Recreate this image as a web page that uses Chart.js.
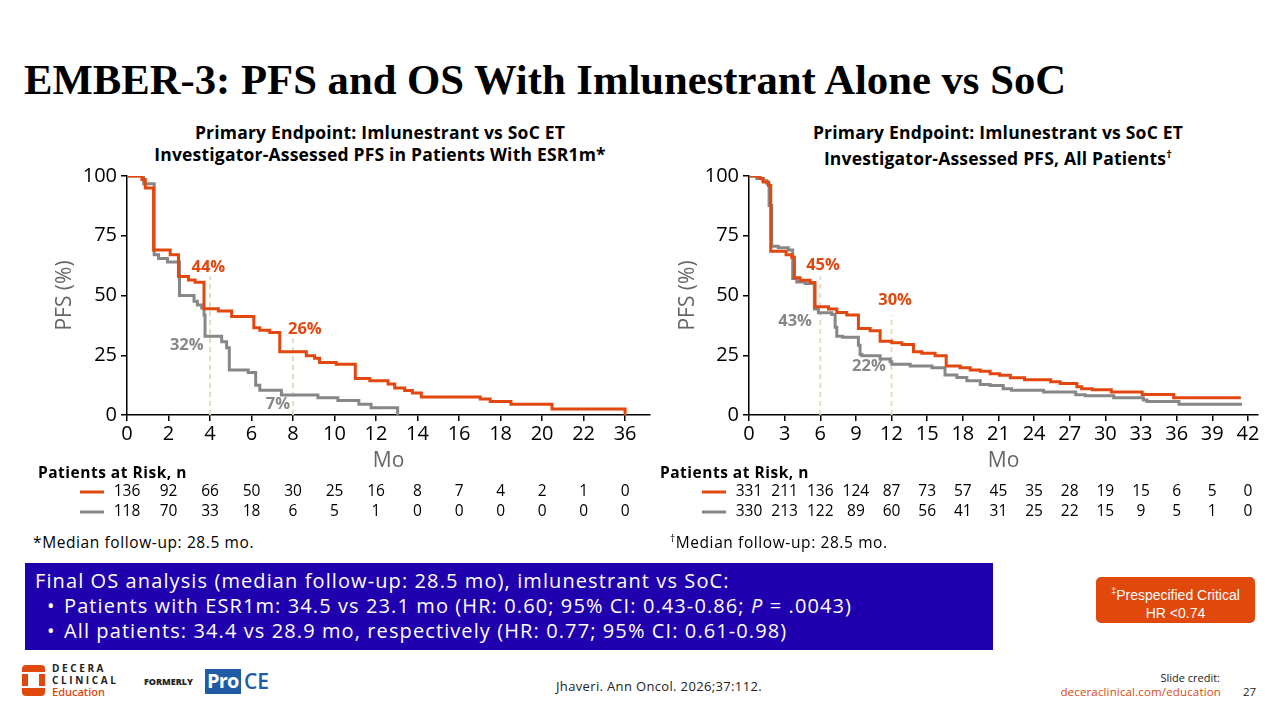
<!DOCTYPE html>
<html><head><meta charset="utf-8">
<script src="https://cdn.jsdelivr.net/npm/chart.js@4.4.1/dist/chart.umd.min.js"></script>
<style>
body{margin:0;width:1280px;height:720px;position:relative;background:#fff;overflow:hidden;font-family:'Open Sans',sans-serif;color:#000}
.abs{position:absolute;white-space:nowrap}
canvas{position:absolute}
.sub{font-weight:700;font-size:17.5px;text-align:center;line-height:22px;letter-spacing:0.2px}
.risk{font-weight:700;font-size:15.5px;letter-spacing:0.5px}
.foot{font-size:15.5px;letter-spacing:0.6px}
#box{left:25px;top:563px;width:968px;height:87px;background:#2000AE;color:#fff;font-size:20px;font-weight:400;letter-spacing:1.1px}
#box div{position:absolute;white-space:nowrap}
#obox{left:1096px;top:577px;width:159px;height:46px;border-radius:5px;background:#E0480C;color:#fff;font-family:'Liberation Sans',sans-serif;font-size:14px;text-align:center;line-height:18px;padding-top:5px;box-sizing:border-box}
</style></head>
<body>
<div class="abs" style="left:24px;top:55px;font-family:'Liberation Serif',serif;font-weight:700;font-size:42.7px;">EMBER-3: PFS and OS With Imlunestrant Alone vs SoC</div>

<div class="abs sub" style="left:80px;width:600px;top:121px;">Primary Endpoint: Imlunestrant vs SoC ET<br>Investigator-Assessed PFS in Patients With ESR1m*</div>
<div class="abs sub" style="left:698px;width:600px;top:121px;">Primary Endpoint: Imlunestrant vs SoC ET<br>Investigator-Assessed PFS, All Patients<sup style="font-size:11px">†</sup></div>

<canvas id="cL" width="640" height="370" style="left:20px;top:160px"></canvas>
<canvas id="cR" width="625" height="370" style="left:655px;top:160px"></canvas>

<div class="abs risk" style="left:38px;top:461px;">Patients at Risk, n</div>
<div class="abs risk" style="left:660px;top:461px;">Patients at Risk, n</div>
<div class="abs foot" style="left:33px;top:531px;">*Median follow-up: 28.5 mo.</div>
<div class="abs foot" style="left:670px;top:531px;"><sup style="font-size:10px">†</sup>Median follow-up: 28.5 mo.</div>

<div class="abs" id="box">
  <div style="left:10px;top:4px;">Final OS analysis (median follow-up: 28.5 mo), imlunestrant vs SoC:</div>
  <div style="left:22px;top:29px;">•</div>
  <div style="left:39px;top:29px;">Patients with ESR1m: 34.5 vs 23.1 mo (HR: 0.60; 95% CI: 0.43-0.86; <i>P</i> = .0043)</div>
  <div style="left:22px;top:54px;">•</div>
  <div style="left:39px;top:54px;">All patients: 34.4 vs 28.9 mo, respectively (HR: 0.77; 95% CI: 0.61-0.98)</div>
</div>
<div class="abs" id="obox"><sup style="font-size:9px">‡</sup>Prespecified Critical<br>HR &lt;0.74</div>

<!-- footer -->
<div class="abs" style="left:22px;top:665px;width:23px;height:31px;background:#E0480C;border-radius:4px;"></div>
<div class="abs" style="left:28px;top:674px;width:11px;height:12px;background:#fff;"></div>
<div class="abs" style="left:22px;top:672px;width:23px;height:2px;background:#fff;"></div>
<div class="abs" style="left:22px;top:686px;width:23px;height:2px;background:#fff;"></div>
<div class="abs" style="left:52px;top:662px;font-size:10px;font-weight:700;letter-spacing:2.6px;color:#222;line-height:12px;">DECERA<br>CLINICAL</div>
<div class="abs" style="left:52px;top:685px;font-size:11px;font-weight:600;color:#E0480C;line-height:13px;">Education</div>
<div class="abs" style="left:144px;top:675px;font-size:9px;font-weight:800;color:#222;">FORMERLY</div>
<div class="abs" style="left:205px;top:669px;width:36px;height:25px;background:#1F5BA6;"></div>
<div class="abs" style="left:207px;top:667px;font-size:20px;font-weight:700;color:#fff;letter-spacing:-0.8px;">Pro</div>
<div class="abs" style="left:244px;top:667px;font-size:21px;font-weight:600;color:#1F5BA6;">CE</div>
<div class="abs" style="left:556px;top:677px;font-size:13px;letter-spacing:0.35px;color:#222;">Jhaveri. Ann Oncol. 2026;37:112.</div>
<div class="abs" style="left:1120px;top:670px;width:100px;text-align:right;font-size:11px;color:#222;">Slide credit:</div>
<div class="abs" style="left:1040px;top:684px;width:181px;text-align:right;font-size:11.5px;letter-spacing:0.15px;color:#E0480C;">deceraclinical.com/education</div>
<div class="abs" style="left:1243px;top:684px;font-size:11.5px;color:#222;">27</div>

<script>
// ---------- DATA ----------
const ORANGE = '#E2470F';
const GRAY = '#878787';

// Left panel: ESR1m (x-axis broken: position 24 is labelled 36 mo)
const leftTickPos    = [0,2,4,6,8,10,12,14,16,18,20,22,24];
const leftTickLabels = ['0','2','4','6','8','10','12','14','16','18','20','22','36'];
const leftImlunT = [0,0.72,0.88,1.28,2.08,2.48,2.96,3.28,3.71,4.4,5.04,6.11,6.4,6.88,7.36,8.64,9.04,9.28,10.08,11.0,11.7,12.58,12.9,13.38,13.75,14.18,17.02,17.5,18.5,20.48,24];
const leftImlunS = [100,98.5,95,69,67,58,56.5,55.5,44.5,43.5,41.2,36.5,35.5,34.5,26.5,24.8,23.7,22,21.2,15.3,14.3,13,11.3,10.3,9.2,7.5,6.7,5.6,4.5,2.5,0];
const leftSocT = [0,0.8,1.31,1.52,1.95,2.53,3.23,3.39,3.6,3.71,3.76,4.56,4.8,4.93,5.84,6.2,6.4,7.44,9.2,10.16,11.17,11.76,13.04];
const leftSocS = [100,96.8,67,65.5,64,50,47.6,46,44.8,41.8,33,30.6,28.1,18.8,17.8,12.5,10.4,8.4,7.2,6.1,4.5,3,0];
const leftRiskImlun = ['136','92','66','50','30','25','16','8','7','4','2','1','0'];
const leftRiskSoc   = ['118','70','33','18','6','5','1','0','0','0','0','0','0'];

// Right panel: all patients
const rightTickPos    = [0,3,6,9,12,15,18,21,24,27,30,33,36,39,42];
const rightTickLabels = ['0','3','6','9','12','15','18','21','24','27','30','33','36','39','42'];
const rightImlunT = [0,0.93,1.2,1.63,1.83,3.12,3.6,3.82,4.3,5.14,5.56,6.69,7.39,8.23,9.21,10.2,11.04,12.02,12.87,13.85,14.55,15.67,16.6,17.78,18.62,19.47,20.3,21.1,22,23.2,25.4,26.2,27.6,28.0,28.9,30.5,33.1,35.75,41.4];
const rightImlunS = [100,99,97.5,96,68.5,67,66,57.4,56.4,55.4,45.3,44.3,42.9,41.8,36.2,35.2,30.9,30.2,29.5,26.5,25.8,24.8,20.5,19.8,18.8,18.3,17.3,16.6,15.6,14.8,13.9,13.2,11.8,11.0,10.6,9.6,8.6,7.2,7.2];
const rightSocT = [0,0.65,1.15,1.49,1.69,1.91,2.47,3.31,3.68,4.02,4.72,5.5,5.84,6.97,7.25,7.39,7.89,9.21,9.35,9.5,11.04,11.88,12.02,13.57,15.4,16.5,17.5,18.34,19.47,20.3,21.4,22.1,24.8,27.5,28.3,30.7,33.2,33.5,36.2,41.5];
const rightSocS = [100,99,98,97,87.7,70.6,70,69,57.1,55.7,55,44.3,42.8,42,36.7,33,32.5,29.2,25.3,24.8,23.4,22.3,21.2,20.5,19.8,16.7,15.7,14.3,12.8,12.3,11.0,10.4,9.6,8.5,8.1,7.2,6.3,5.6,4.5,4.5];
const rightRiskImlun = ['331','211','136','124','87','73','57','45','35','28','19','15','6','5','0'];
const rightRiskSoc   = ['330','213','122','89','60','56','41','31','25','22','15','9','5','1','0'];

const yTicks = [0,25,50,75,100];

// landmark annotations
const leftMarks = {lines:[[4,58],[8,32]], labels:[[3.92,61.6,'44%',ORANGE],[8.57,36,'26%',ORANGE],[2.88,29.2,'32%',GRAY],[7.27,4.5,'7%',GRAY]]};
const rightMarks = {lines:[[6,58],[12,41.8]], labels:[[6.23,62.7,'45%',ORANGE],[12.3,48,'30%',ORANGE],[3.88,39.4,'43%',GRAY],[10.1,20.2,'22%',GRAY]]};

// ---------- PLUGIN ----------
const kmExtras = {
  id:'kmExtras',
  beforeDatasetsDraw(chart, a, o){
    const {ctx, scales:{x,y}} = chart;
    ctx.save();
    ctx.strokeStyle = '#E6DCC0'; ctx.lineWidth = 2; ctx.setLineDash([5,4]);
    o.marks.lines.forEach(([xv,yt])=>{
      ctx.beginPath(); ctx.moveTo(x.getPixelForValue(xv), y.getPixelForValue(0));
      ctx.lineTo(x.getPixelForValue(xv), y.getPixelForValue(yt)); ctx.stroke();
    });
    ctx.restore();
  },
  afterDatasetsDraw(chart, a, o){
    const {ctx, scales:{x,y}, chartArea} = chart;
    ctx.save();
    ctx.font = "700 16.5px 'Open Sans'"; ctx.textAlign='center'; ctx.textBaseline='middle';
    o.marks.labels.forEach(([xv,yv,t,c])=>{ ctx.fillStyle=c; ctx.fillText(t, x.getPixelForValue(xv), y.getPixelForValue(yv)); });
    // risk table
    ctx.font = "400 15.5px 'Open Sans'"; ctx.fillStyle='#000';
    o.rows.forEach((row,i)=>{
      const yy = chartArea.bottom + o.rowOffsets[i];
      ctx.strokeStyle = row.color; ctx.lineWidth = 3; ctx.setLineDash([]);
      ctx.beginPath(); ctx.moveTo(chartArea.left + o.marker[0], yy); ctx.lineTo(chartArea.left + o.marker[1], yy); ctx.stroke();
      ctx.fillStyle='#000';
      row.values.forEach((v,j)=> ctx.fillText(v, x.getPixelForValue(o.ticks[j]), yy));
    });
    ctx.restore();
  }
};

function pts(T,S){ return T.map((t,i)=>({x:t,y:S[i]})); }

function makeChart(id, cfg){
  const fontTick = {family:"'Open Sans'", size:20};
  new Chart(document.getElementById(id), {
    type:'line',
    data:{datasets:[
      {data:pts(cfg.imT,cfg.imS), borderColor:ORANGE, borderWidth:3, stepped:'before', pointRadius:0, fill:false},
      {data:pts(cfg.socT,cfg.socS), borderColor:GRAY, borderWidth:3, stepped:'before', pointRadius:0, fill:false}
    ]},
    options:{
      responsive:false, animation:false, devicePixelRatio:1,
      layout:{padding:{top:16, right:cfg.padRight, left:0, bottom:0}},
      plugins:{legend:{display:false}, tooltip:{enabled:false},
        kmExtras:{marks:cfg.marks, ticks:cfg.tickPos, rows:[{values:cfg.riskIm,color:ORANGE},{values:cfg.riskSoc,color:GRAY}], rowOffsets:[77,97], marker:[-47,-23]}},
      scales:{
        x:{type:'linear', min:0, max:cfg.xMax,
          afterBuildTicks:s=>{ s.ticks = cfg.tickPos.map(v=>({value:v})); },
          afterFit:s=>{ s.height = 115; },
          ticks:{color:'#000', font:fontTick, padding:1, maxRotation:0, autoSkip:false,
            callback:v=>cfg.tickLabels[cfg.tickPos.indexOf(v)]},
          grid:{drawOnChartArea:false, drawTicks:true, tickLength:6, color:'#000', lineWidth:1.5},
          border:{display:true, color:'#000', width:1.5},
          title:{display:true, text:'Mo', color:'#666', font:{family:"'Open Sans'", size:21}, padding:{top:0,bottom:56}}
        },
        y:{min:0, max:100,
          afterBuildTicks:s=>{ s.ticks = yTicks.map(v=>({value:v})); },
          afterFit:s=>{ s.width = cfg.yWidth; },
          ticks:{color:'#000', font:fontTick, padding:4},
          grid:{drawOnChartArea:false, drawTicks:true, tickLength:6, color:'#000', lineWidth:1.5},
          border:{display:true, color:'#000', width:1.5},
          title:{display:true, text:'PFS (%)', color:'#666', font:{family:"'Open Sans'", size:21}, padding:{top:cfg.yTitlePad, bottom:0}}
        }
      }
    },
    plugins:[kmExtras]
  });
}

makeChart('cL', {imT:leftImlunT, imS:leftImlunS, socT:leftSocT, socS:leftSocS, tickPos:leftTickPos, tickLabels:leftTickLabels,
  riskIm:leftRiskImlun, riskSoc:leftRiskSoc, marks:leftMarks, xMax:25.2, padRight:10, yWidth:107, yTitlePad:32});
makeChart('cR', {imT:rightImlunT, imS:rightImlunS, socT:rightSocT, socS:rightSocS, tickPos:rightTickPos, tickLabels:rightTickLabels,
  riskIm:rightRiskImlun, riskSoc:rightRiskSoc, marks:rightMarks, xMax:42.85, padRight:22, yWidth:94, yTitlePad:20});
</script>
</body></html>
